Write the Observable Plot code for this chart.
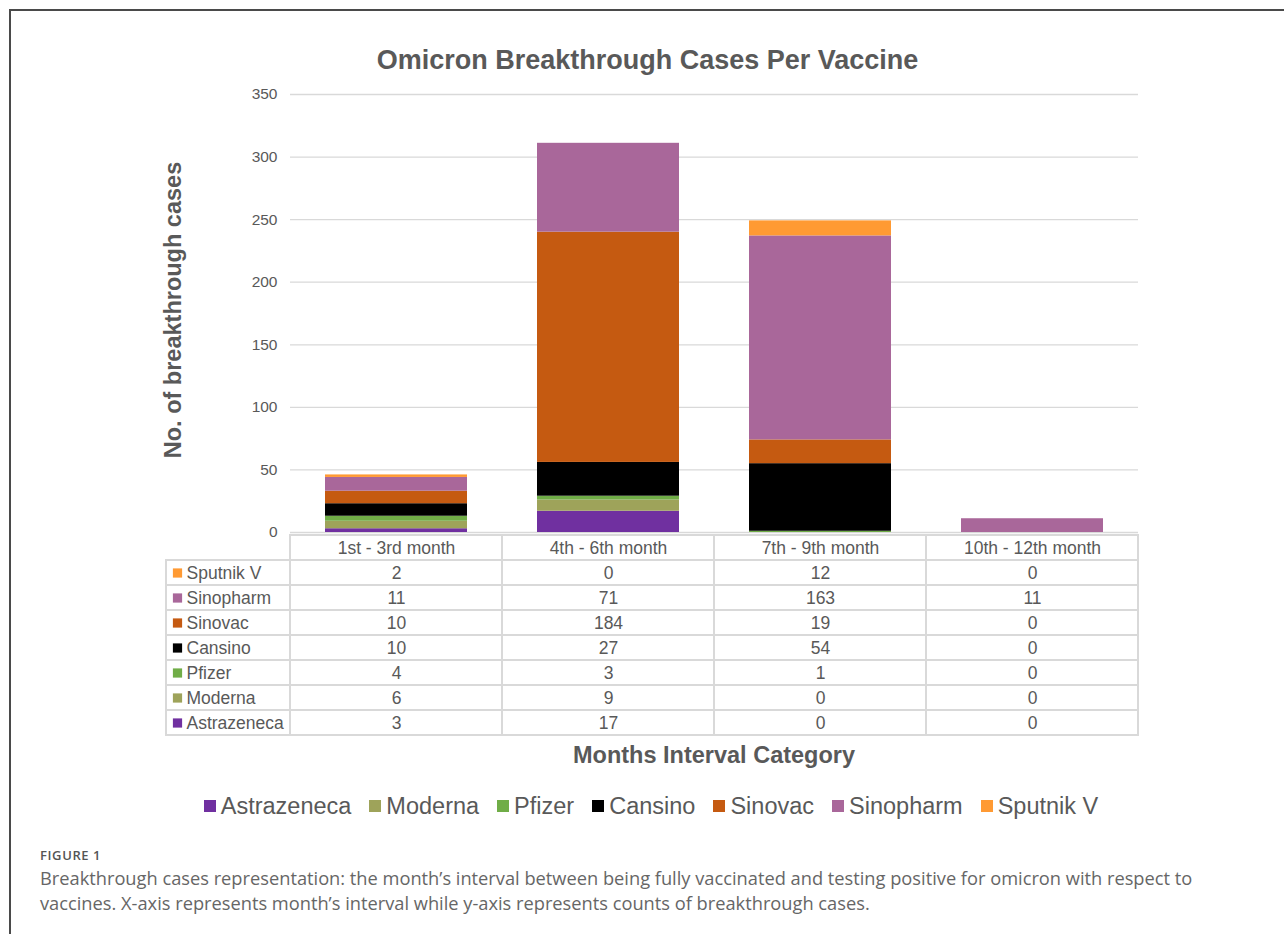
<!DOCTYPE html>
<html>
<head>
<meta charset="utf-8">
<script src="https://cdn.jsdelivr.net/npm/d3@7"></script>
<script src="https://cdn.jsdelivr.net/npm/@observablehq/plot@0.6"></script>
<style>
  html, body { margin: 0; padding: 0; background: #fff; }
  body { width: 1284px; height: 934px; position: relative; overflow: hidden; font-family: "Liberation Sans", Arial, sans-serif; color: #595959; }
  .abs { position: absolute; }
  #frame { left: 9px; top: 9px; width: 1300px; height: 940px; border-left: 2px solid #4a4a4a; border-top: 2px solid #4a4a4a; }
  #title { left: 0; top: 44px; width: 1295px; text-align: center; font-weight: bold; font-size: 27px; line-height: 32px; }
  #ytitle { left: 173px; top: 310px; transform: translate(-50%, -50%) rotate(-90deg); white-space: nowrap; font-weight: bold; font-size: 23.5px; }
  #xtitle { left: 0; top: 741px; width: 1428px; text-align: center; font-weight: bold; font-size: 23.5px; line-height: 28px; }
  #legend { left: 0; top: 792px; width: 1302px; display: flex; justify-content: center; gap: 18px; font-size: 23.5px; line-height: 28px; }
  #legend .item { display: flex; align-items: center; gap: 5px; }
  #legend .sw { width: 12px; height: 12px; display: inline-block; }
  #figlabel { left: 40px; top: 846px; font-family: "Open Sans", sans-serif; font-weight: 600; font-size: 13px; letter-spacing: 0.6px; color: #555; }
  #caption { left: 40px; top: 865px; width: 1180px; font-family: "Open Sans", sans-serif; font-size: 18.25px; line-height: 25px; color: #666; }
</style>
</head>
<body>
<div id="frame" class="abs"></div>
<div id="title" class="abs">Omicron Breakthrough Cases Per Vaccine</div>
<div id="ytitle" class="abs">No. of breakthrough cases</div>
<div id="bars" class="abs" style="left:0;top:80px;"></div>
<div id="table" class="abs" style="left:0;top:532px;"></div>
<div id="labels" class="abs" style="left:166px;top:532px;"></div>
<div id="xtitle" class="abs">Months Interval Category</div>
<div id="legend" class="abs"></div>
<div id="figlabel" class="abs">FIGURE 1</div>
<div id="caption" class="abs">Breakthrough cases representation: the month’s interval between being fully vaccinated and testing positive for omicron with respect to vaccines. X-axis represents month’s interval while y-axis represents counts of breakthrough cases.</div>
<script>
const intervals = ["1st - 3rd month", "4th - 6th month", "7th - 9th month", "10th - 12th month"];
const vaccines = ["Astrazeneca", "Moderna", "Pfizer", "Cansino", "Sinovac", "Sinopharm", "Sputnik V"];
const colors = ["#7030a0", "#9ea35a", "#70ad47", "#000000", "#c55a11", "#a9679a", "#ff9a33"];
const astrazeneca = [3, 17, 0, 0];
const moderna = [6, 9, 0, 0];
const pfizer = [4, 3, 1, 0];
const cansino = [10, 27, 54, 0];
const sinovac = [10, 184, 19, 0];
const sinopharm = [11, 71, 163, 11];
const sputnik = [2, 0, 12, 0];
const yTicks = [0, 50, 100, 150, 200, 250, 300, 350];

const series = [astrazeneca, moderna, pfizer, cansino, sinovac, sinopharm, sputnik];
const rows = [];
vaccines.forEach((v, i) => intervals.forEach((iv, j) => rows.push({vaccine: v, interval: iv, value: series[i][j]})));

const font = "Liberation Sans, Arial, sans-serif";
const textCol = "#595959";
const grid = "#d9d9d9";

const bars = Plot.plot({
  width: 1284, height: 462,
  marginTop: 14, marginBottom: 10, marginLeft: 290, marginRight: 146,
  style: {fontFamily: font, fontSize: "15.5px", color: textCol, overflow: "visible", background: "transparent"},
  x: {type: "band", domain: intervals, paddingInner: 0.33, paddingOuter: 0.165, axis: null},
  y: {domain: [0, 350], axis: null},
  color: {domain: vaccines, range: colors},
  marks: [
    Plot.gridY(yTicks, {stroke: grid, strokeOpacity: 1, strokeWidth: 1.3}),
    Plot.axisY(yTicks, {tickSize: 0, tickPadding: 13, label: null, fill: textCol, fontSize: 15.5}),
    Plot.barY(rows, {x: "interval", y: "value", fill: "vaccine", order: vaccines})
  ]
});
document.getElementById("bars").append(bars);

// table
const rowDomain = ["header", ...vaccines.slice().reverse()];
const cells = [];
intervals.forEach(iv => cells.push({interval: iv, row: "header", label: iv}));
rows.forEach(r => cells.push({interval: r.interval, row: r.vaccine, label: String(r.value)}));

const table = Plot.plot({
  width: 1284, height: 210,
  marginTop: 0, marginBottom: 4, marginLeft: 290, marginRight: 146,
  style: {fontFamily: font, color: textCol, overflow: "visible", background: "transparent"},
  x: {type: "band", domain: intervals, padding: 0, axis: null},
  y: {type: "band", domain: rowDomain, padding: 0, axis: null},
  marks: [
    Plot.cell(cells, {x: "interval", y: "row", fill: "white", stroke: grid, strokeWidth: 2, inset: 0}),
    Plot.text(cells, {x: "interval", y: "row", text: "label", fill: textCol, fontSize: 17.5})
  ]
});
document.getElementById("table").append(table);

const labelRows = vaccines.map(v => ({vaccine: v, col: "label"}));
const labels = Plot.plot({
  width: 124, height: 210,
  marginTop: 0, marginBottom: 4, marginLeft: 0, marginRight: 0,
  style: {fontFamily: font, color: textCol, overflow: "visible", background: "transparent"},
  x: {type: "band", domain: ["label"], padding: 0, axis: null},
  y: {type: "band", domain: rowDomain, padding: 0, axis: null},
  color: {domain: vaccines, range: colors},
  marks: [
    Plot.cell(labelRows, {x: "col", y: "vaccine", fill: "white", stroke: grid, strokeWidth: 2, inset: 0}),
    Plot.dot(labelRows, {y: "vaccine", fill: "vaccine", symbol: "square", r: 5.2, frameAnchor: "left", dx: 11}),
    Plot.text(labelRows, {y: "vaccine", text: "vaccine", frameAnchor: "left", textAnchor: "start", dx: 20, fill: textCol, fontSize: 17.5})
  ]
});
document.getElementById("labels").append(labels);

// legend
const legend = document.getElementById("legend");
vaccines.forEach((v, i) => {
  const item = document.createElement("span");
  item.className = "item";
  const sw = document.createElement("span");
  sw.className = "sw";
  sw.style.background = colors[i];
  const t = document.createElement("span");
  t.textContent = v;
  item.append(sw, t);
  legend.append(item);
});
</script>
</body>
</html>
